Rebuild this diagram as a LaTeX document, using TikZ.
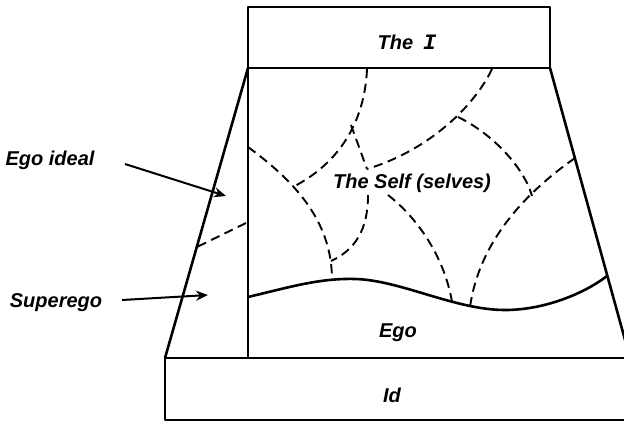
\documentclass[tikz,border=0pt]{standalone}
\usepackage{fontspec}
\setmainfont{Liberation Sans}
\newfontfamily\monof{Liberation Mono}
\usetikzlibrary{arrows.meta}
\begin{document}
\begin{tikzpicture}[x=0.5pt,y=-0.5pt,
  outline/.style={line width=1.3pt, line join=round},
  dashline/.style={line width=0.95pt, dash pattern=on 4.6pt off 2.8pt},
  lbl/.style={font=\bfseries\itshape\fontsize{10}{12}\selectfont, inner sep=0pt},
  arr/.style={line width=1pt, -{Stealth[length=6pt,width=5pt]}}]
\useasboundingbox (0,0) rectangle (624,423);
\clip (0,0) rectangle (624,423);

% key corners
\coordinate (tl) at (248,68);
\coordinate (tr) at (550,68);
\coordinate (bl) at (165,358);
\coordinate (br) at (630,358);
\coordinate (vb) at (248,358);

% top box "The I"
\draw[outline] (248,7) rectangle (550,68);
\node[lbl] (theI) at (407,42) {The\enspace{\monof\bfseries\itshape\fontsize{11}{12}\selectfont I}};

% trapezoid sides and vertical divider
\draw[outline] (tl) -- (bl);
\draw[outline] (tr) -- (br);
\draw[outline] (tl) -- (vb);

% Id box
\draw[outline] (165,358) rectangle (640,420);
\node[lbl] (id) at (392,395) {Id};

% Ego curve
\coordinate (eg0) at (248,297);
\coordinate (eg1) at (355,279);
\coordinate (eg2) at (505,310);
\coordinate (eg3) at (607,276);
\draw[outline] (eg0) .. controls (290,287) and (320,278) .. (eg1)
  .. controls (400,280) and (455,310) .. (eg2)
  .. controls (545,310) and (585,293) .. (eg3);
\node[lbl] (ego) at (398,333) {Ego};

% dashed boundaries of the selves
\coordinate (a0) at (367,69);
\coordinate (a1) at (293,187);
\coordinate (j1) at (351,125);
\coordinate (j2) at (367,169);
\coordinate (d0) at (492,69);
\coordinate (j3) at (458,117);
\coordinate (b0) at (248,147);
\coordinate (b1) at (332,280);
\coordinate (e0) at (368,195);
\coordinate (e1) at (331,261);
\coordinate (f0) at (388,195);
\coordinate (f1) at (452,302);
\coordinate (g1) at (532,196);
\coordinate (h0) at (575,158);
\coordinate (h1) at (470,307);
\coordinate (l0) at (246,223);
\coordinate (l1) at (197,247);

\draw[dashline] (a0) .. controls (365,115) and (345,160) .. (a1);
\draw[dashline] (j1) -- (j2);
\draw[dashline] (d0) .. controls (475,105) and (430,150) .. (j2);
\draw[dashline] (b0) .. controls (300,185) and (332,225) .. (b1);
\draw[dashline] (e0) .. controls (368,230) and (355,250) .. (e1);
\draw[dashline] (f0) .. controls (420,220) and (445,260) .. (f1);
\draw[dashline] (j3) .. controls (495,135) and (525,170) .. (g1);
\draw[dashline] (h0) .. controls (515,200) and (478,250) .. (h1);
\draw[dashline] (l0) -- (l1);

\node[lbl] (self) at (412,183) {The Self (selves)};

% side labels and arrows
\node[lbl] (egoideal) at (50,160) {Ego ideal};
\node[lbl] (superego) at (56,303) {Superego};
\coordinate (eis) at (125,164);
\coordinate (eit) at (226,196);
\coordinate (ses) at (122,300);
\coordinate (set) at (208,295);
\draw[arr] (eis) -- (eit);
\draw[arr] (ses) -- (set);
\end{tikzpicture}
\end{document}
